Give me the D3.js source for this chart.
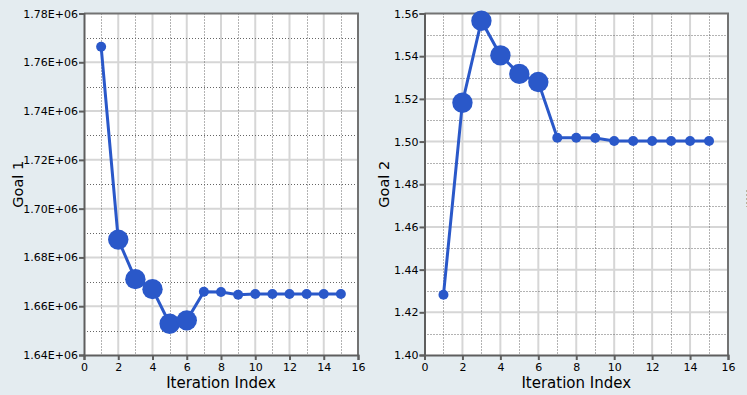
<!DOCTYPE html>
<html><head><meta charset="utf-8">
<script src="https://cdn.jsdelivr.net/npm/d3@7"></script>
<style>
html,body{margin:0;padding:0;background:#e4ecf0;}
svg{display:block;}
text{font-family:"DejaVu Sans",Verdana,sans-serif;fill:#000;}
</style></head>
<body>
<svg id="c" width="747" height="395"></svg>
<script>
// ---- data ----
const iterations = [1,2,3,4,5,6,7,8,9,10,11,12,13,14,15];
const goal1 = [1.7664e6,1.6873e6,1.6711e6,1.6670e6,1.6528e6,1.6542e6,1.6659e6,1.6658e6,1.6647e6,1.6650e6,1.6650e6,1.6650e6,1.6650e6,1.6650e6,1.6650e6];
const goal2 = [1.4282,1.5182,1.5566,1.5404,1.5317,1.5279,1.5018,1.5018,1.5017,1.5003,1.5003,1.5003,1.5003,1.5003,1.5003];
// marker emphasis per iteration (large = highlighted)
const emphasis1 = [0,1,1,1,1,1,0,0,0,0,0,0,0,0,0];
const emphasis2 = [0,1,1,1,1,1,0,0,0,0,0,0,0,0,0];
const xTicks = [0,2,4,6,8,10,12,14,16];
const xMinor = [1,3,5,7,9,11,13,15];
const y1Ticks = [1.64e6,1.66e6,1.68e6,1.70e6,1.72e6,1.74e6,1.76e6,1.78e6];
const y1Minor = [1.65e6,1.67e6,1.69e6,1.71e6,1.73e6,1.75e6,1.77e6];
const y2Ticks = [1.40,1.42,1.44,1.46,1.48,1.50,1.52,1.54,1.56];
const y2Minor = [1.41,1.43,1.45,1.47,1.49,1.51,1.53,1.55];
const xLabel = "Iteration Index";

const svg = d3.select("#c");
const COLOR = "#2a58c9";

function fmtE(v){
  const e = Math.floor(Math.log10(Math.abs(v)));
  const m = v/Math.pow(10,e);
  return m.toFixed(2)+"E+"+String(e).padStart(2,"0");
}

function panel(opt){
  const g = svg.append("g");
  const x = d3.scaleLinear().domain([0,16]).range([opt.x0,opt.x1]);
  const y = d3.scaleLinear().domain(opt.yDomain).range([opt.y1,opt.y0]);
  // plot bg
  g.append("rect").attr("x",opt.x0).attr("y",opt.y0).attr("width",opt.x1-opt.x0).attr("height",opt.y1-opt.y0).attr("fill","#fff");
  // major grid
  g.selectAll(".gx").data(xTicks.slice(1,-1)).join("line")
    .attr("x1",d=>x(d)).attr("x2",d=>x(d)).attr("y1",opt.y0).attr("y2",opt.y1)
    .attr("stroke","#d6d6d6").attr("stroke-width",2);
  g.selectAll(".gy").data(opt.yTicks.slice(1,-1)).join("line")
    .attr("x1",opt.x0).attr("x2",opt.x1).attr("y1",d=>y(d)).attr("y2",d=>y(d))
    .attr("stroke","#d6d6d6").attr("stroke-width",2);
  // minor dotted grid
  g.selectAll(".mx").data(xMinor).join("line")
    .attr("x1",d=>Math.round(x(d))+0.5).attr("x2",d=>Math.round(x(d))+0.5).attr("y1",opt.y0).attr("y2",opt.y1)
    .attr("stroke","#666").attr("stroke-width",1).attr("stroke-dasharray","1,2");
  g.selectAll(".my").data(opt.yMinor).join("line")
    .attr("x1",opt.x0).attr("x2",opt.x1).attr("y1",d=>Math.round(y(d))+0.5).attr("y2",d=>Math.round(y(d))+0.5)
    .attr("stroke","#666").attr("stroke-width",1).attr("stroke-dasharray","1,2");
  // top/right frame
  g.append("path").attr("d",`M${opt.x0},${opt.y0}H${opt.x1}V${opt.y1}`)
    .attr("fill","none").attr("stroke","#737373").attr("stroke-width",2);
  // axes
  const ax = g.append("g").attr("transform",`translate(0,${opt.y1})`)
    .call(d3.axisBottom(x).tickValues(xTicks).tickFormat(d3.format("d")).tickSize(5).tickPadding(3));
  const ay = g.append("g").attr("transform",`translate(${opt.x0},0)`)
    .call(d3.axisLeft(y).tickValues(opt.yTicks).tickFormat(opt.fmt).tickSize(5).tickPadding(1));
  [ax,ay].forEach(a=>{
    a.select(".domain").attr("stroke","#5e5e5e").attr("stroke-width",2);
    a.selectAll(".tick line").attr("stroke","#5e5e5e").attr("stroke-width",2);
    a.selectAll("text").attr("font-size","11px").attr("font-family","'DejaVu Sans',Verdana,sans-serif").attr("fill","#000");
  });
  // axis titles
  g.append("text").attr("x",(opt.x0+opt.x1)/2).attr("y",388).attr("text-anchor","middle")
    .attr("font-size","15px").text(xLabel);
  g.append("text").attr("transform",`translate(${opt.ylabX},${(opt.y0+opt.y1)/2}) rotate(-90)`)
    .attr("text-anchor","middle").attr("font-size","14.5px").text(opt.yLabel);
  // line + markers
  const pts = iterations.map((it,i)=>({x:it,y:opt.values[i],e:opt.emph[i]}));
  g.append("path").datum(pts)
    .attr("d",d3.line().x(d=>x(d.x)).y(d=>y(d.y)))
    .attr("fill","none").attr("stroke",COLOR).attr("stroke-width",3);
  g.selectAll(".pt").data(pts).join("circle")
    .attr("cx",d=>x(d.x)).attr("cy",d=>y(d.y)).attr("r",d=>d.e?10.2:5)
    .attr("fill",COLOR);
}

panel({x0:84,x1:358,y0:13.5,y1:355,yDomain:[1.64e6,1.78e6],yTicks:y1Ticks,yMinor:y1Minor,
  fmt:fmtE,yLabel:"Goal 1",ylabX:23,values:goal1,emph:emphasis1});
panel({x0:424.5,x1:728,y0:13.5,y1:355,yDomain:[1.40,1.56],yTicks:y2Ticks,yMinor:y2Minor,
  fmt:d3.format(".2f"),yLabel:"Goal 2",ylabX:389,values:goal2,emph:emphasis2});

// splitter grip at right edge
svg.append("line").attr("x1",746.5).attr("x2",746.5).attr("y1",190).attr("y2",207)
  .attr("stroke","#b9b3a0").attr("stroke-width",1).attr("stroke-dasharray","2,2");
</script>
</body></html>
